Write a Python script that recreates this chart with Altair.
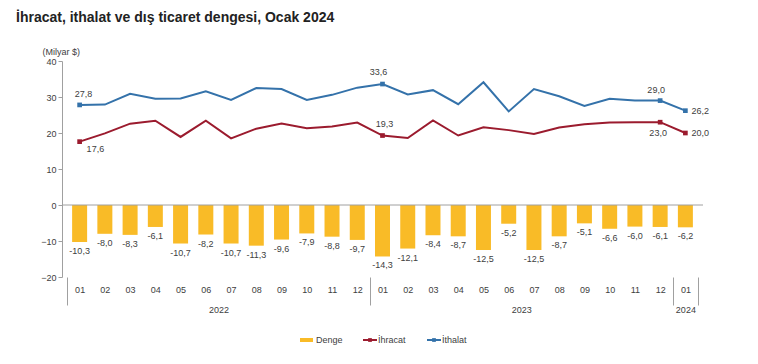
import json
import altair as alt
import pandas as pd

months = ["01", "02", "03", "04", "05", "06", "07", "08", "09", "10", "11", "12",
          "01", "02", "03", "04", "05", "06", "07", "08", "09", "10", "11", "12", "01"]
year_labels = ["2022", "2023", "2024"]
year_pos = [5.5, 17.5, 24]
separators = [-0.5, 11.5, 23.5, 24.5]

denge = [-10.3, -8.0, -8.3, -6.1, -10.7, -8.2, -10.7, -11.3, -9.6, -7.9, -8.8, -9.7,
         -14.3, -12.1, -8.4, -8.7, -12.5, -5.2, -12.5, -8.7, -5.1, -6.6, -6.0, -6.1, -6.2]
ihracat = [17.6, 19.9, 22.6, 23.4, 18.9, 23.4, 18.5, 21.2, 22.6, 21.3, 21.8, 22.9,
           19.3, 18.6, 23.5, 19.3, 21.6, 20.8, 19.7, 21.5, 22.4, 22.9, 23.0, 23.0, 20.0]
ithalat = [27.8, 27.9, 30.9, 29.5, 29.6, 31.6, 29.2, 32.5, 32.2, 29.2, 30.6, 32.6,
           33.6, 30.7, 31.9, 28.0, 34.1, 26.0, 32.2, 30.2, 27.5, 29.5, 29.0, 29.0, 26.2]
marked = [0, 12, 23, 24]

FONT = "Liberation Sans"
C_BAR = "#F9BB27"
C_EXP = "#9B1B2E"
C_IMP = "#3472AA"
GRAY = "#A0A0A0"
TXT = "#404040"

def fmt(v):
    return f"{v:.1f}".replace(".", ",")

df = pd.DataFrame({
    "i": list(range(len(months))),
    "ay": months,
    "denge": denge,
    "ihracat": ihracat,
    "ithalat": ithalat,
})
df["denge_lbl"] = [fmt(v) for v in denge]
df["ihr_lbl"] = [fmt(v) for v in ihracat]
df["ith_lbl"] = [fmt(v) for v in ithalat]
df["zero"] = 0

xscale = alt.Scale(domain=[-0.5, 24.5], nice=False, zero=False)
yscale = alt.Scale(domain=[-20, 40], nice=False, zero=False)

month_expr = json.dumps(months) + "[datum.value]"
year_expr = json.dumps(year_labels) + "[indexof(" + json.dumps(year_pos) + ", datum.value)]"

x_month = alt.X("i:Q", scale=xscale, axis=alt.Axis(
    orient="bottom", values=list(range(len(months))), labelExpr=month_expr, ticks=False,
    domain=False, grid=False, labelPadding=8, labelFontSize=9, labelFont=FONT,
    labelColor=TXT, title=None, labelFlush=False, labelOverlap=False))
x_year = alt.X("i:Q", scale=xscale, axis=alt.Axis(
    orient="bottom", values=year_pos, labelExpr=year_expr, ticks=False, domain=False,
    grid=False, labelPadding=28, labelFontSize=9, labelFont=FONT, labelColor=TXT,
    title=None, labelFlush=False, labelOverlap=False))
x_sep = alt.X("i:Q", scale=xscale, axis=alt.Axis(
    orient="bottom", values=separators, labels=False, ticks=True, tickSize=28,
    tickColor=GRAY, domain=False, grid=False, title=None))
x_none = alt.X("i:Q", scale=xscale, axis=None)

y_axis = alt.Y("denge:Q", scale=yscale, axis=alt.Axis(
    orient="left", values=[-20, -10, 0, 10, 20, 30, 40], grid=False, tickSize=4,
    tickColor=GRAY, domainColor=GRAY, labelFontSize=9, labelFont=FONT, labelColor=TXT,
    labelPadding=2, title="(Milyar $)", titleAngle=0, titleX=-20, titleY=-10,
    titleAlign="left", titleBaseline="middle", titleFontSize=9, titleFontWeight="normal",
    titleFont=FONT, titleColor=TXT))

base = alt.Chart(df)

bars = base.mark_bar(size=15, color=C_BAR).encode(x=x_month, y=y_axis)
bar_lbl = base.mark_text(fontSize=9, font=FONT, color=TXT, baseline="middle", dy=9).encode(
    x=x_none, y=alt.Y("denge:Q", scale=yscale, axis=None), text="denge_lbl:N")
zero = base.transform_filter("datum.i == 0").mark_rule(color=GRAY, strokeWidth=1).encode(
    y=alt.Y("zero:Q", scale=yscale, axis=None))

line_imp = base.mark_line(color=C_IMP, strokeWidth=2).encode(
    x=x_year, y=alt.Y("ithalat:Q", scale=yscale, axis=None))
line_exp = base.mark_line(color=C_EXP, strokeWidth=2).encode(
    x=x_sep, y=alt.Y("ihracat:Q", scale=yscale, axis=None))

pts = base.transform_filter(alt.FieldOneOfPredicate(field="i", oneOf=marked))
pt_imp = pts.mark_point(shape="square", filled=True, size=22, color=C_IMP, opacity=1).encode(
    x=x_none, y=alt.Y("ithalat:Q", scale=yscale, axis=None))
pt_exp = pts.mark_point(shape="square", filled=True, size=22, color=C_EXP, opacity=1).encode(
    x=x_none, y=alt.Y("ihracat:Q", scale=yscale, axis=None))

# point label placements: (index, series, dx, dy, align)
lbl_specs = [
    (0, "ithalat", 4, -11, "center"),
    (12, "ithalat", -4, -12, "center"),
    (23, "ithalat", -4, -11, "center"),
    (24, "ithalat", 6, 0, "left"),
    (0, "ihracat", 7, 7, "left"),
    (12, "ihracat", 2, -12, "center"),
    (23, "ihracat", -2, 11, "center"),
    (24, "ihracat", 6, 0, "left"),
]
lbl_layers = []
for idx, ser, dx, dy, al in lbl_specs:
    field = "ith_lbl" if ser == "ithalat" else "ihr_lbl"
    lbl_layers.append(
        base.transform_filter(alt.datum.i == idx).mark_text(
            fontSize=9, font=FONT, color=TXT, dx=dx, dy=dy, align=al, baseline="middle"
        ).encode(x=x_none, y=alt.Y(f"{ser}:Q", scale=yscale, axis=None), text=f"{field}:N")
    )

# manual legend (decoration)
one = alt.Chart(pd.DataFrame({"k": [0]}))
leg_y = 279
legend_layers = [
    one.mark_rect(color=C_BAR).encode(x=alt.value(238), x2=alt.value(251),
                                       y=alt.value(leg_y - 2), y2=alt.value(leg_y + 2)),
    one.mark_text(text="Denge", fontSize=9, font=FONT, color=TXT, align="left",
                  baseline="middle").encode(x=alt.value(254), y=alt.value(leg_y)),
    one.mark_rule(color=C_EXP, strokeWidth=2).encode(x=alt.value(301), x2=alt.value(315),
                                                     y=alt.value(leg_y)),
    one.mark_point(shape="square", filled=True, size=14, color=C_EXP, opacity=1).encode(
        x=alt.value(308), y=alt.value(leg_y)),
    one.mark_text(text="İhracat", fontSize=9, font=FONT, color=TXT, align="left",
                  baseline="middle").encode(x=alt.value(316), y=alt.value(leg_y)),
    one.mark_rule(color=C_IMP, strokeWidth=2).encode(x=alt.value(365), x2=alt.value(379),
                                                     y=alt.value(leg_y)),
    one.mark_point(shape="square", filled=True, size=14, color=C_IMP, opacity=1).encode(
        x=alt.value(372), y=alt.value(leg_y)),
    one.mark_text(text="İthalat", fontSize=9, font=FONT, color=TXT, align="left",
                  baseline="middle").encode(x=alt.value(380), y=alt.value(leg_y)),
]

chart = alt.layer(
    bars, zero, bar_lbl, line_imp, line_exp, pt_imp, pt_exp, *lbl_layers, *legend_layers
).resolve_scale(x="shared", y="shared").resolve_axis(x="independent", y="independent").properties(
    width=641, height=216,
    title=alt.TitleParams("İhracat, ithalat ve dış ticaret dengesi, Ocak 2024", anchor="start",
                          frame="group", dx=-46, fontSize=14, font=FONT, fontWeight="bold",
                          color="#222222", offset=22),
    autosize=alt.AutoSizeParams(type="none"),
    padding={"left": 54, "top": 53, "right": 47, "bottom": 70},
).configure(
    font=FONT, background="white",
    view=alt.ViewConfig(stroke="transparent", strokeWidth=0),
)

chart.save("out.html", embed_options={"renderer": "svg", "actions": False})
